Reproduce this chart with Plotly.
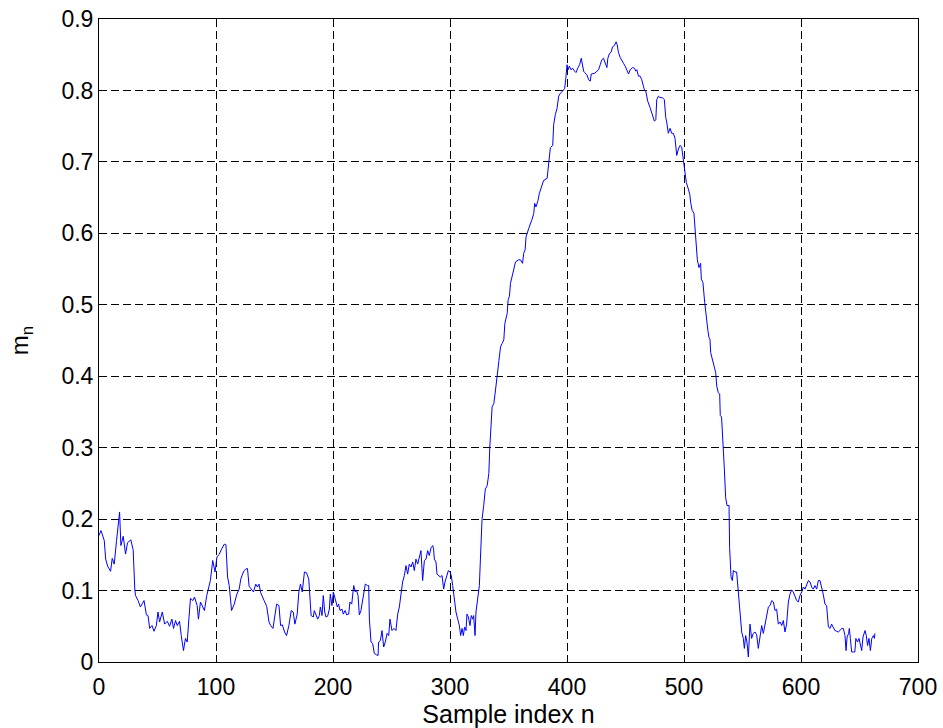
import plotly.graph_objects as go

# Sample index n and the corresponding estimate m_n
sample_index = [
    0.0, 1.7, 4.5, 5.7, 7.4, 9.9, 11.3, 13.0, 15.0, 17.6, 18.7, 20.7, 22.7, 24.4, 27.2, 29.2,
    30.6, 31.2, 33.4, 35.4, 38.5, 40.5, 41.9, 43.3, 45.3, 47.0, 49.0, 50.4, 51.8, 54.1, 56.1,
    58.4, 60.3, 62.3, 63.7, 65.4, 66.9, 68.8, 70.3, 72.2, 73.9, 75.4, 76.8, 78.2, 80.2, 81.6,
    83.9, 85.0, 86.7, 88.7, 90.1, 92.1, 93.5, 95.2, 97.2, 99.2, 100.8, 102.8, 104.8, 107.1,
    108.5, 109.9, 111.3, 113.3, 115.6, 117.8, 119.8, 121.2, 122.7, 124.1, 125.5, 126.9, 128.3,
    130.3, 132.0, 134.0, 135.4, 136.8, 138.2, 141.1, 143.3, 145.3, 146.7, 148.7, 150.1, 151.8,
    153.8, 155.2, 156.7, 158.6, 160.3, 162.3, 164.3, 166.0, 167.4, 169.4, 170.8, 172.2, 173.7,
    175.6, 177.3, 179.3, 181.3, 183.2, 184.0, 185.5, 186.9, 188.3, 189.2, 190.6, 191.7, 192.9,
    194.0, 195.4, 196.9, 197.7, 199.1, 200.3, 201.4, 202.6, 203.7, 204.8, 206.0, 207.7, 208.8,
    210.3, 211.7, 213.4, 214.5, 216.0, 216.8, 217.7, 219.1, 220.2, 221.4, 222.5, 223.9, 225.4,
    226.8, 227.6, 229.6, 230.5, 231.1, 232.5, 233.9, 235.3, 237.3, 238.5, 239.0, 240.5, 241.9,
    243.3, 244.7, 246.2, 247.6, 248.7, 250.4, 252.1, 253.8, 255.3, 256.7, 258.1, 259.5, 261.0,
    262.4, 263.8, 265.2, 266.7, 268.1, 269.5, 270.9, 272.4, 273.8, 275.2, 276.6, 278.1, 279.5,
    280.9, 282.3, 283.8, 285.2, 286.0, 286.6, 288.0, 288.9, 290.3, 291.7, 293.2, 294.6, 295.7,
    297.2, 298.6, 300.0, 301.1, 302.3, 303.7, 305.1, 306.6, 308.0, 309.1, 310.3, 311.4, 312.5,
    313.7, 314.5, 315.7, 317.1, 318.2, 319.4, 320.2, 321.4, 322.2, 323.6, 325.1, 325.9, 327.4,
    328.8, 330.2, 331.8, 333.2, 334.0, 334.7, 336.0, 337.5, 339.0, 340.3, 341.8, 343.2, 344.6,
    346.0, 346.9, 348.9, 349.7, 350.8, 351.7, 353.1, 354.5, 356.0, 358.8, 360.2, 362.0, 363.0,
    364.2, 365.0, 367.3, 368.7, 370.0, 371.6, 372.4, 373.5, 375.2, 376.4, 380.0, 383.0, 384.4,
    385.8, 387.8, 388.6, 390.0, 391.5, 392.9, 394.3, 396.3, 398.0, 399.0, 400.0, 400.9, 402.0,
    403.4, 404.8, 406.5, 407.7, 409.4, 410.8, 412.2, 413.4, 414.2, 415.1, 417.0, 418.5, 419.9,
    420.7, 422.2, 423.6, 425.6, 427.0, 428.4, 429.8, 431.2, 432.7, 434.1, 434.9, 436.1, 437.8,
    438.9, 440.6, 442.0, 442.9, 444.0, 445.5, 446.9, 448.3, 449.7, 451.1, 452.6, 454.0, 456.0,
    457.7, 458.8, 459.7, 461.1, 462.5, 463.9, 465.3, 466.2, 467.3, 469.0, 471.0, 472.4, 473.9,
    474.7, 475.9, 476.7, 478.1, 479.5, 481.5, 483.2, 484.4, 485.2, 486.6, 488.1, 489.5, 490.9,
    492.3, 493.8, 495.2, 496.6, 498.0, 499.4, 500.0, 501.0, 502.0, 503.7, 505.0, 505.8, 507.0,
    508.5, 509.4, 510.0, 511.4, 512.8, 514.2, 514.8, 516.2, 517.7, 519.1, 520.5, 521.4, 522.2,
    522.8, 524.2, 525.6, 527.1, 528.0, 529.3, 530.5, 531.0, 532.1, 533.3, 534.5, 535.6, 536.8,
    538.5, 539.0, 540.2, 541.3, 542.2, 543.6, 545.0, 546.4, 547.9, 549.3, 550.7, 551.6, 552.7,
    553.8, 555.0, 556.4, 557.8, 559.2, 560.7, 562.1, 563.5, 564.9, 566.4, 567.8, 569.2, 570.7,
    572.1, 573.5, 575.0, 576.4, 577.8, 579.2, 580.6, 582.1, 583.5, 584.9, 586.3, 587.7, 589.2,
    590.6, 592.0, 593.4, 594.9, 596.3, 597.7, 599.1, 600.6, 602.0, 603.4, 604.8, 606.3, 607.7,
    609.1, 610.5, 611.9, 613.4, 614.8, 616.2, 617.6, 619.0, 620.5, 621.9, 623.4, 624.8, 626.2,
    627.6, 629.0, 630.5, 631.9, 633.3, 634.8, 636.2, 637.6, 638.5, 639.4, 640.7, 641.3, 642.2,
    643.3, 644.7, 646.0, 646.9, 648.3, 649.6, 650.8, 651.9, 653.0, 654.7, 655.8, 656.9, 658.1,
    659.3, 660.5, 661.9, 662.7, 663.2,
]

m_values = [
    0.177, 0.184, 0.170, 0.144, 0.134, 0.127, 0.145, 0.137, 0.170, 0.210, 0.163, 0.176, 0.151,
    0.167, 0.171, 0.157, 0.102, 0.093, 0.086, 0.077, 0.086, 0.066, 0.065, 0.047, 0.051, 0.043,
    0.051, 0.070, 0.056, 0.070, 0.053, 0.057, 0.050, 0.060, 0.047, 0.058, 0.051, 0.057, 0.037,
    0.016, 0.033, 0.028, 0.060, 0.089, 0.086, 0.091, 0.079, 0.060, 0.084, 0.078, 0.072, 0.093,
    0.105, 0.114, 0.142, 0.126, 0.147, 0.151, 0.158, 0.165, 0.164, 0.119, 0.107, 0.072, 0.081,
    0.095, 0.102, 0.116, 0.123, 0.128, 0.130, 0.131, 0.106, 0.102, 0.098, 0.109, 0.105, 0.109,
    0.097, 0.086, 0.078, 0.056, 0.051, 0.047, 0.065, 0.081, 0.079, 0.051, 0.052, 0.042, 0.037,
    0.051, 0.072, 0.070, 0.053, 0.067, 0.098, 0.109, 0.098, 0.126, 0.125, 0.116, 0.065, 0.063,
    0.072, 0.065, 0.060, 0.065, 0.077, 0.065, 0.093, 0.070, 0.063, 0.064, 0.074, 0.095, 0.079,
    0.098, 0.091, 0.086, 0.077, 0.081, 0.072, 0.074, 0.067, 0.072, 0.066, 0.067, 0.084, 0.081,
    0.098, 0.107, 0.098, 0.100, 0.093, 0.066, 0.072, 0.088, 0.100, 0.109, 0.107, 0.107, 0.060,
    0.028, 0.026, 0.012, 0.010, 0.009, 0.028, 0.030, 0.044, 0.021, 0.028, 0.040, 0.037, 0.060,
    0.044, 0.047, 0.044, 0.067, 0.077, 0.098, 0.112, 0.121, 0.135, 0.123, 0.137, 0.133, 0.140,
    0.128, 0.144, 0.137, 0.147, 0.156, 0.114, 0.142, 0.144, 0.156, 0.149, 0.160, 0.163, 0.158,
    0.144, 0.140, 0.123, 0.121, 0.119, 0.121, 0.102, 0.112, 0.119, 0.128, 0.126, 0.121, 0.107,
    0.088, 0.070, 0.060, 0.051, 0.037, 0.047, 0.037, 0.049, 0.044, 0.067, 0.063, 0.051, 0.065,
    0.060, 0.065, 0.037, 0.070, 0.091, 0.107, 0.140, 0.200, 0.219, 0.242, 0.247, 0.264, 0.300,
    0.324, 0.357, 0.362, 0.387, 0.400, 0.422, 0.441, 0.446, 0.451, 0.474, 0.488, 0.507, 0.512,
    0.530, 0.539, 0.549, 0.560, 0.563, 0.563, 0.558, 0.572, 0.577, 0.595, 0.607, 0.612, 0.619,
    0.628, 0.642, 0.637, 0.646, 0.656, 0.674, 0.677, 0.700, 0.720, 0.723, 0.752, 0.766, 0.775,
    0.792, 0.796, 0.799, 0.803, 0.817, 0.836, 0.829, 0.834, 0.829, 0.831, 0.827, 0.825, 0.832,
    0.836, 0.845, 0.834, 0.827, 0.825, 0.822, 0.815, 0.813, 0.823, 0.824, 0.824, 0.827, 0.829,
    0.836, 0.843, 0.845, 0.838, 0.832, 0.845, 0.851, 0.854, 0.861, 0.863, 0.868, 0.864, 0.853,
    0.846, 0.841, 0.838, 0.834, 0.829, 0.823, 0.829, 0.832, 0.831, 0.827, 0.829, 0.820, 0.820,
    0.815, 0.806, 0.801, 0.799, 0.785, 0.776, 0.769, 0.759, 0.757, 0.759, 0.787, 0.792, 0.790,
    0.790, 0.787, 0.762, 0.756, 0.740, 0.747, 0.740, 0.740, 0.733, 0.709, 0.718, 0.723, 0.721,
    0.705, 0.700, 0.685, 0.671, 0.662, 0.654, 0.642, 0.632, 0.628, 0.608, 0.582, 0.563, 0.552,
    0.558, 0.536, 0.531, 0.503, 0.480, 0.463, 0.454, 0.452, 0.433, 0.424, 0.417, 0.405, 0.386,
    0.377, 0.375, 0.345, 0.343, 0.312, 0.270, 0.230, 0.219, 0.219, 0.160, 0.119, 0.114, 0.128,
    0.126, 0.126, 0.102, 0.074, 0.042, 0.033, 0.019, 0.037, 0.028, 0.007, 0.053, 0.033, 0.040,
    0.042, 0.038, 0.019, 0.037, 0.051, 0.040, 0.051, 0.063, 0.077, 0.079, 0.086, 0.084, 0.072,
    0.074, 0.053, 0.056, 0.051, 0.058, 0.042, 0.053, 0.084, 0.095, 0.101, 0.098, 0.093, 0.086,
    0.084, 0.093, 0.098, 0.105, 0.102, 0.107, 0.114, 0.112, 0.105, 0.102, 0.107, 0.102, 0.114,
    0.114, 0.105, 0.095, 0.081, 0.079, 0.049, 0.047, 0.053, 0.049, 0.044, 0.043, 0.042, 0.044,
    0.047, 0.047, 0.037, 0.016, 0.035, 0.040, 0.047, 0.033, 0.014, 0.014, 0.014, 0.033, 0.028,
    0.033, 0.023, 0.016, 0.035, 0.044, 0.037, 0.023, 0.033, 0.016, 0.033, 0.037, 0.033, 0.040,
]

x_ticks = [0, 100, 200, 300, 400, 500, 600, 700]
y_ticks = [0, 0.1, 0.2, 0.3, 0.4, 0.5, 0.6, 0.7, 0.8, 0.9]
y_tick_text = ["0", "0.1", "0.2", "0.3", "0.4", "0.5", "0.6", "0.7", "0.8", "0.9"]

FONT = "Liberation Sans, Arial, sans-serif"

fig = go.Figure(
    go.Scatter(
        x=sample_index,
        y=m_values,
        mode="lines",
        line=dict(color="#0000ff", width=1),
        hoverinfo="skip",
    )
)

axis_common = dict(
    automargin=False,
    showline=True,
    linecolor="black",
    linewidth=1,
    mirror=True,
    ticks="inside",
    ticklen=6,
    tickcolor="black",
    showgrid=True,
    gridcolor="black",
    gridwidth=1,
    griddash="8px,4px",
    zeroline=False,
    tickfont=dict(family=FONT, size=23, color="black"),
)

fig.update_xaxes(
    range=[0, 700],
    tickvals=x_ticks,
    ticklabelstandoff=4,
    title=dict(text="Sample index n", font=dict(family=FONT, size=25, color="black"), standoff=6),
    **axis_common,
)
fig.update_yaxes(
    range=[0, 0.9],
    tickvals=y_ticks,
    ticktext=y_tick_text,
    title=dict(text="m<sub>n</sub>", font=dict(family=FONT, size=24, color="black"), standoff=26),
    **axis_common,
)

fig.update_layout(
    width=943,
    height=728,
    margin=dict(l=99, r=25, t=19, b=66),
    paper_bgcolor="white",
    plot_bgcolor="white",
    showlegend=False,
)

fig.write_html("out.html")
